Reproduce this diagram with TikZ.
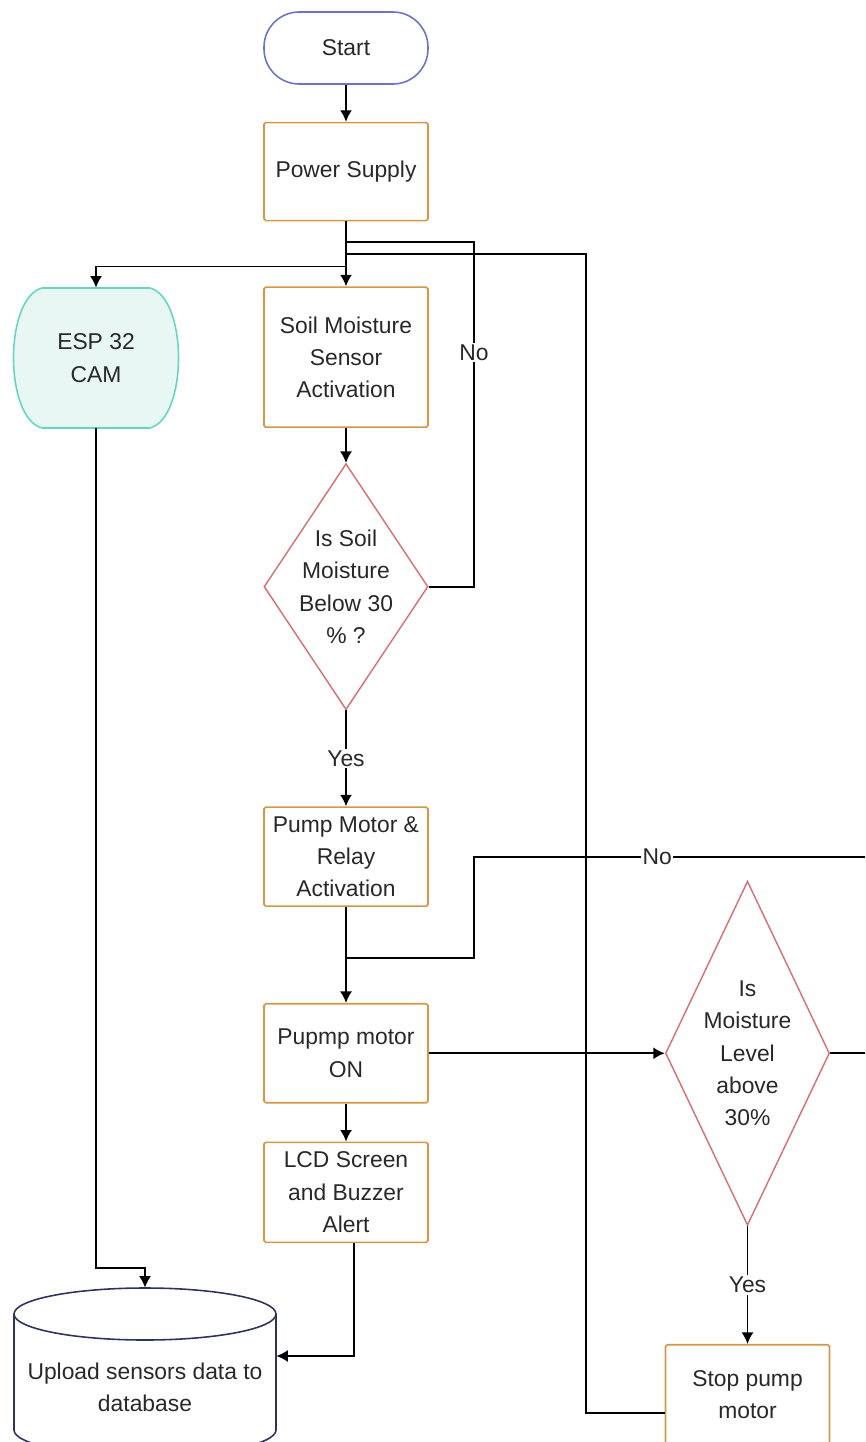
\documentclass[tikz,border=0pt]{standalone}
\usepackage{fontspec}
\setmainfont{Liberation Sans}
\usetikzlibrary{arrows.meta,positioning,shapes.geometric}

\definecolor{boxline}{RGB}{214,150,70}
\definecolor{decline}{RGB}{214,110,115}
\definecolor{termline}{RGB}{105,115,200}
\definecolor{camline}{RGB}{100,215,195}
\definecolor{camfill}{RGB}{232,247,244}
\definecolor{dbline}{RGB}{45,50,95}
\definecolor{txt}{RGB}{40,40,40}

\begin{document}
\begin{tikzpicture}[
  x=0.2mm, y=-0.2mm,
  every node/.style={font=\fontsize{13}{18.4}\selectfont, text=txt},
  box/.style={draw=boxline, line width=0.9pt, rounded corners=1pt, align=center, inner sep=2pt, minimum width=32.8mm, minimum height=19.8mm},
  term/.style={draw=termline, line width=0.9pt, rounded corners=20pt, minimum width=32.8mm, minimum height=14.4mm},
  dec/.style={diamond, draw=decline, line width=0.8pt, align=center, inner sep=-3mm, minimum width=32.8mm},
  cam/.style={draw=camline, fill=camfill, line width=0.9pt},
  dbshape/.style={draw=dbline, line width=0.9pt},
  arr/.style={-{Latex[length=2.3mm,width=2.4mm]}, line width=1pt},
  link/.style={line width=1pt},
  lbl/.style={fill=white, inner sep=1pt}
]
\useasboundingbox (0,0) rectangle (865,1442);
\clip (0,0) rectangle (865,1442);

\node[term] (start) at (346,48) {Start};

\node[box, minimum height=19.6mm, below=7.4mm of start] (power) {Power Supply};

\node[box, minimum height=28mm, below=13mm of power] (soil) {Soil Moisture\\ Sensor\\ Activation};

\node[dec, aspect=0.667, minimum height=49.2mm, below=7mm of soil] (moist) {Is Soil\\ Moisture\\ Below 30\\ \% ?};

\node[box, below=19.2mm of moist] (relay) {Pump Motor \&\\ Relay\\ Activation};

\node[box, below=19.2mm of relay] (pumpon) {Pupmp motor\\ ON};

\node[box, minimum height=20mm, below=7.6mm of pumpon] (lcd) {LCD Screen\\ and Buzzer\\ Alert};

\node[dec, aspect=0.477, minimum height=68.8mm, right=47.2mm of pumpon] (level) {Is\\ Moisture\\ Level\\ above\\ 30\%};

\node[box, minimum height=20mm, below=23.6mm of level] (stop) {Stop pump\\ motor};

% camera block
\draw[cam] (42,288) -- (150,288) .. controls (188,298) and (188,418) .. (150,428) -- (42,428) .. controls (4,418) and (4,298) .. (42,288) -- cycle;
\node[align=center, minimum width=32.8mm, minimum height=28mm] (esp) at (96,358) {ESP 32\\ CAM};

% database drum
\draw[dbshape] (14,1314) -- (14,1430) arc[start angle=180, end angle=360, x radius=26.2mm, y radius=5.2mm] -- (276,1314);
\draw[dbshape] (145,1314) ellipse [x radius=26.2mm, y radius=5.2mm];
\node[align=center, minimum width=52.4mm, minimum height=27.6mm] (db) at (145,1387) {Upload sensors data to\\ database};

\coordinate (soilback) at (474,242);
\coordinate (stopback) at (586,254);
\coordinate (levelback) at (910,857);
\coordinate (relayjoin) at (474,857);

\draw[arr] (start) -- (power);
\draw[arr] (power) -- (soil);
\draw[arr] (power.south) -- ++(0,45) -| (esp.north);
\draw[arr] (soil) -- (moist);
\draw[link] (moist.east) -| (soilback) node[lbl, pos=0.84] {No} -- (power.south |- soilback);
\draw[link] ([yshift=-3.6mm]stop.west) -| (stopback) -- (power.south |- stopback);
\draw[arr] (moist) -- node[lbl] {Yes} (relay);
\draw[arr] (relay) -- (pumpon);
\draw[link] (level.east) -| (levelback) -- node[lbl, pos=0.58] {No} (relayjoin) |- (relay.south |- 0,958);
\draw[arr] (pumpon) -- (level);
\draw[arr] (pumpon) -- (lcd);
\draw[arr] (level) -- node[lbl] {Yes} (stop);
\draw[arr] (esp.south) -- ++(0,840) -| ([yshift=6mm]db.north);
\draw[arr] ([xshift=1.6mm]lcd.south) |- ([yshift=6.2mm]db.east);

\end{tikzpicture}
\end{document}
